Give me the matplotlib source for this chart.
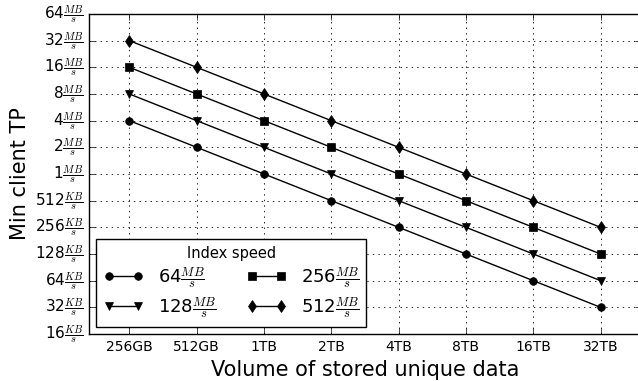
import numpy as np
import matplotlib
matplotlib.use('Agg')
import matplotlib.pyplot as plt

plt.style.use('classic')
plt.rcParams['mathtext.fontset'] = 'cm'
plt.rcParams['font.family'] = 'DejaVu Sans'

# data (throughput in KB/s)
volumes = ['256GB', '512GB', '1TB', '2TB', '4TB', '8TB', '16TB', '32TB']
tp_64 = [4096, 2048, 1024, 512, 256, 128, 64, 32]
tp_128 = [8192, 4096, 2048, 1024, 512, 256, 128, 64]
tp_256 = [16384, 8192, 4096, 2048, 1024, 512, 256, 128]
tp_512 = [32768, 16384, 8192, 4096, 2048, 1024, 512, 256]
series_labels = [r'64$\frac{MB}{s}$', r'128$\frac{MB}{s}$',
                 r'256$\frac{MB}{s}$', r'512$\frac{MB}{s}$']
ytick_vals = [16, 32, 64, 128, 256, 512, 1024, 2048, 4096, 8192, 16384, 32768, 65536]
ytick_labels = ['16$\\frac{KB}{s}$', '32$\\frac{KB}{s}$', '64$\\frac{KB}{s}$',
                '128$\\frac{KB}{s}$', '256$\\frac{KB}{s}$', '512$\\frac{KB}{s}$',
                '1$\\frac{MB}{s}$', '2$\\frac{MB}{s}$', '4$\\frac{MB}{s}$',
                '8$\\frac{MB}{s}$', '16$\\frac{MB}{s}$', '32$\\frac{MB}{s}$',
                '64$\\frac{MB}{s}$']

fig = plt.figure(figsize=(6.38, 3.81), dpi=100, facecolor='white')
ax = fig.add_axes([89/638., 1-334/381., (641-89)/638., (334-14)/381.])
ax.set_facecolor('white')

x = np.arange(len(volumes))
markers = ['o', 'v', 's', 'd']
msizes = [5.5, 6, 5.5, 6.5]
for ys, m, ms, lab in zip([tp_64, tp_128, tp_256, tp_512], markers, msizes, series_labels):
    ax.plot(x, ys, color='black', lw=1, marker=m, markersize=ms,
            markerfacecolor='black', markeredgecolor='black', label=lab)

ax.set_yscale('log', base=2)
ax.set_ylim(16, 65536)
ax.set_yticks(ytick_vals)
ax.set_yticklabels(ytick_labels, fontsize=11)
ax.minorticks_off()
ax.set_xlim(-0.6, 7.6)
ax.set_xticks(x)
ax.set_xticklabels(volumes, fontsize=10)
ax.grid(True, linestyle=':', color='black', lw=0.6)
ax.tick_params(direction='in', length=4, top=True, right=True)

ax.set_xlabel('Volume of stored unique data', fontsize=15)
ax.set_ylabel('Min client TP', fontsize=15, labelpad=4)

leg = ax.legend(loc='lower left', ncol=2, title='Index speed', fontsize=13,
                numpoints=2, fancybox=False, borderaxespad=0.4,
                columnspacing=1.7, handlelength=2.2, labelspacing=0.25,
                handletextpad=0.8)
leg.get_title().set_fontsize(10.5)
leg.get_frame().set_linewidth(1)

fig.savefig('out.png', dpi=100, facecolor='white')
